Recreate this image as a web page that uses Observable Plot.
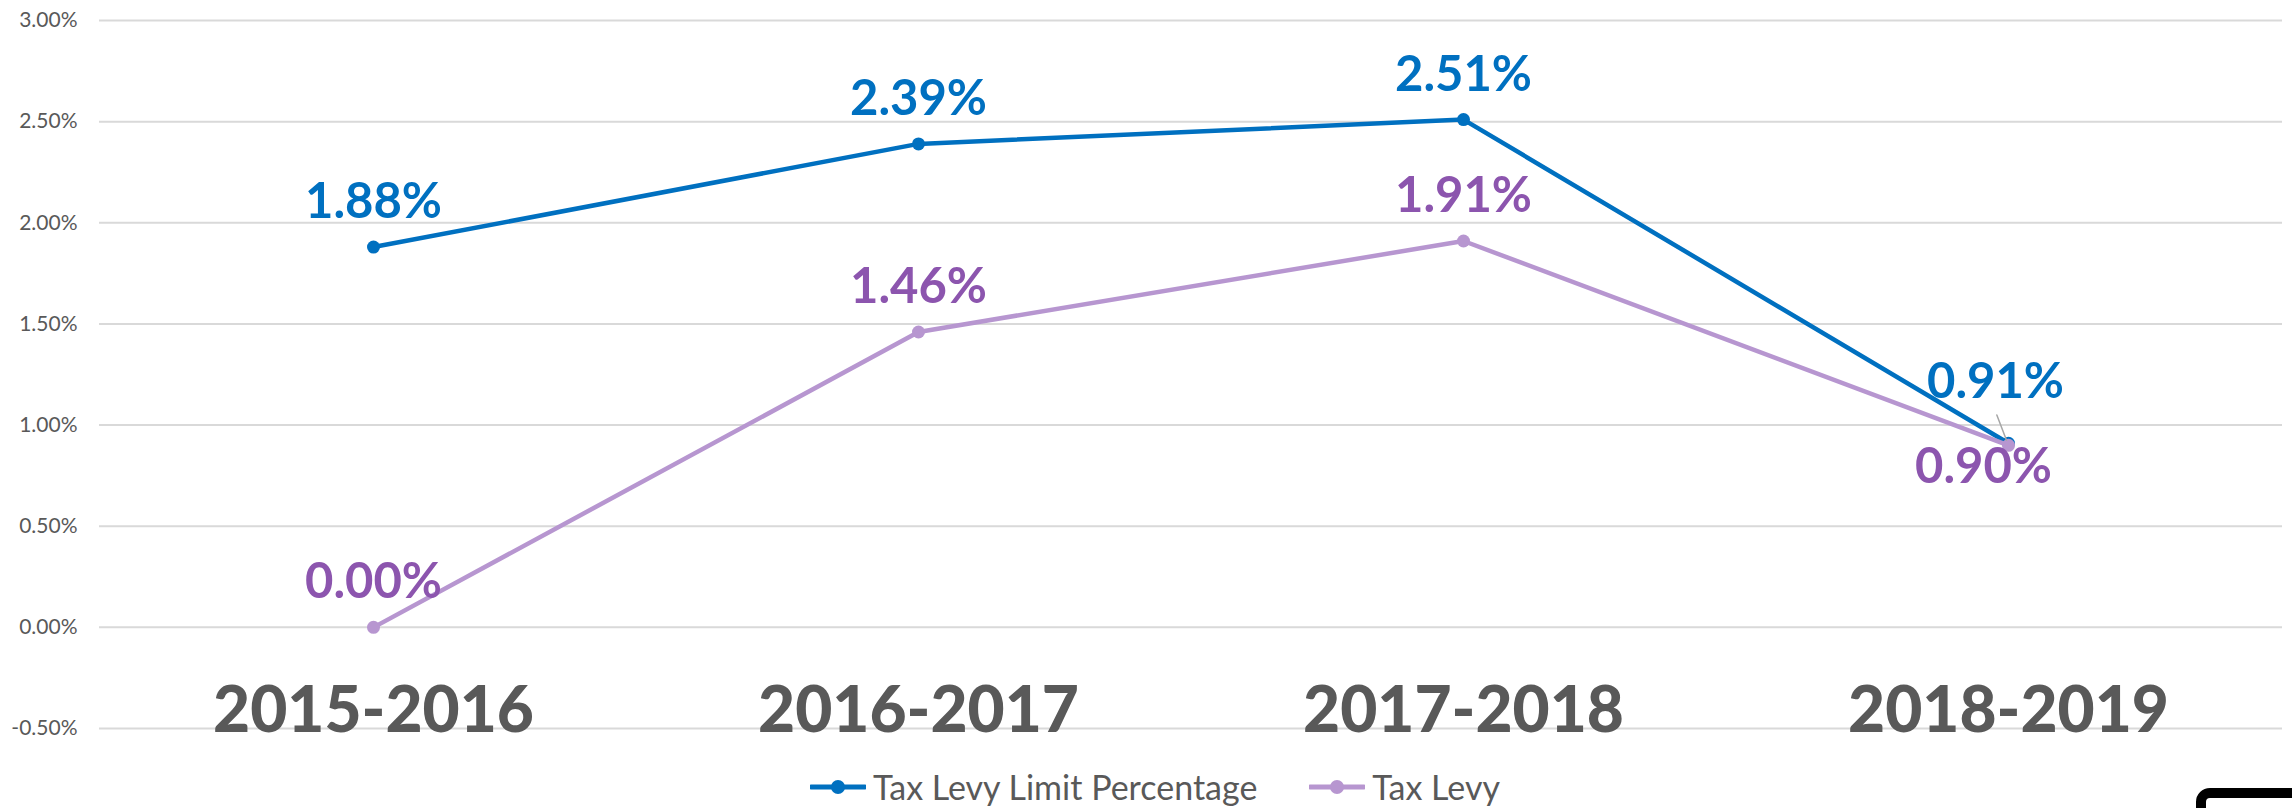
<!DOCTYPE html>
<html>
<head>
<meta charset="utf-8">
<script src="https://cdn.jsdelivr.net/npm/d3@7"></script>
<script src="https://cdn.jsdelivr.net/npm/@observablehq/plot@0.6"></script>
<style>
  html, body { margin: 0; padding: 0; background: #fff; }
  body { width: 2292px; height: 808px; overflow: hidden; position: relative; font-family: Lato, "Open Sans", sans-serif; }
  #chart { position: absolute; left: 0; top: 0; }
  #legend { position: absolute; left: 0; top: 766px; width: 2292px; height: 42px; display: flex; justify-content: center; align-items: center; padding-left: 18px; box-sizing: border-box; }
  .item { display: flex; align-items: center; margin: 0 26px; }
  .item span { font-size: 34px; color: #595959; margin-left: 7px; line-height: 1; }
  #corner { position: absolute; left: 2196px; top: 788px; width: 130px; height: 60px; border: 10px solid #000; border-radius: 14px; box-sizing: border-box; background: #fff; }
</style>
</head>
<body>
<div id="chart"></div>
<div id="legend"></div>
<div id="corner"></div>
<script>
// ---- data ----
const years = ["2015-2016", "2016-2017", "2017-2018", "2018-2019"];
const seriesNames = ["Tax Levy Limit Percentage", "Tax Levy"];
const limitPct = [1.88, 2.39, 2.51, 0.91];
const taxLevy = [0.00, 1.46, 1.91, 0.90];
const yTicks = [-0.5, 0, 0.5, 1, 1.5, 2, 2.5, 3];

// ---- styles ----
const lineColors = ["#0070C0", "#B796D0"];
const labelColors = ["#0070C0", "#8C55AE"];
const gray = "#595959";
const fmt = v => v.toFixed(2) + "%";

const rows = [];
years.forEach((yr, i) => {
  rows.push({year: yr, value: limitPct[i], series: seriesNames[0], idx: i});
  rows.push({year: yr, value: taxLevy[i], series: seriesNames[1], idx: i});
});
const limitRows = rows.filter(d => d.series === seriesNames[0]);
const levyRows = rows.filter(d => d.series === seriesNames[1]);
const last = years.length - 1;

const labelFont = {fontSize: 49, fontWeight: "bold", fontFamily: "Lato, 'Open Sans', sans-serif", lineAnchor: "bottom", text: d => fmt(d.value)};

const chart = Plot.plot({
  width: 2292,
  height: 760,
  marginLeft: 99,
  marginRight: 10,
  marginTop: 20,
  marginBottom: 32,
  style: {fontFamily: "Lato, 'Open Sans', sans-serif", background: "#fff"},
  x: {type: "point", domain: years, padding: 0.5, axis: null},
  y: {domain: [-0.5, 3], axis: null, label: null},
  color: {domain: seriesNames, range: lineColors},
  marks: [
    Plot.gridY(yTicks, {stroke: "#d9d9d9", strokeOpacity: 1, strokeWidth: 2}),
    Plot.axisY(yTicks, {tickSize: 0, tickPadding: 22, fontSize: 21, fill: gray, tickFormat: fmt, label: null}),
    Plot.text(years, {x: d => d, frameAnchor: "bottom", lineAnchor: "bottom", dy: 3, fontSize: 64, fontWeight: 900, fill: gray, letterSpacing: -1.5}),
    Plot.line(limitRows, {x: "year", y: "value", stroke: "series", strokeWidth: 4.5}),
    Plot.dot(limitRows, {x: "year", y: "value", fill: "series", r: 6.5}),
    Plot.line(levyRows, {x: "year", y: "value", stroke: "series", strokeWidth: 4.5}),
    Plot.dot(levyRows, {x: "year", y: "value", fill: "series", r: 6.5}),
    // leader line for the last limit label
    Plot.vector(limitRows.filter(d => d.idx === last), {
      x: "year", y: "value", anchor: "start", length: 27, rotate: -21, dy: -3, dx: -2,
      stroke: "#a6a6a6", strokeWidth: 1.5,
      shape: {draw(context, l) { context.moveTo(0, 0); context.lineTo(0, -l); }}
    }),
    // data labels
    Plot.text(limitRows.filter(d => d.idx !== last), {x: "year", y: "value", ...labelFont, fill: labelColors[0], dy: -29}),
    Plot.text(limitRows.filter(d => d.idx === last), {x: "year", y: "value", ...labelFont, fill: labelColors[0], dy: -45, dx: -13}),
    Plot.text(levyRows.filter(d => d.idx !== last), {x: "year", y: "value", ...labelFont, fill: labelColors[1], dy: -29}),
    Plot.text(levyRows.filter(d => d.idx === last), {x: "year", y: "value", ...labelFont, fill: labelColors[1], dy: 38, dx: -25})
  ]
});
document.getElementById("chart").appendChild(chart);

// legend
const legend = document.getElementById("legend");
seriesNames.forEach((name, i) => {
  const item = document.createElement("div");
  item.className = "item";
  item.innerHTML = `<svg width="56" height="16"><line x1="1" y1="8" x2="55" y2="8" stroke="${lineColors[i]}" stroke-width="5" stroke-linecap="round"/><circle cx="28" cy="8" r="7" fill="${lineColors[i]}"/></svg><span>${name}</span>`;
  legend.appendChild(item);
});
</script>
</body>
</html>
